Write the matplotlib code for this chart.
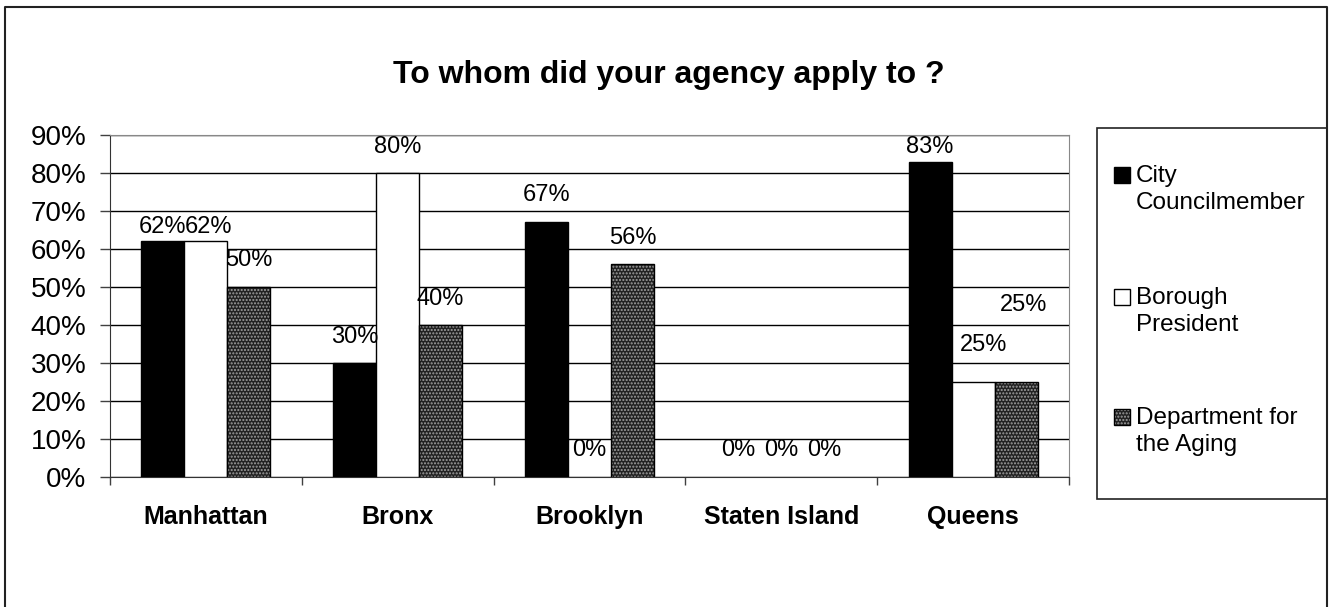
import numpy as np
import matplotlib
matplotlib.use("Agg")
from matplotlib import pyplot as plt
from matplotlib.patches import Rectangle
from matplotlib.lines import Line2D

# data
boroughs = ["Manhattan", "Bronx", "Brooklyn", "Staten Island", "Queens"]
series_names = ["City\nCouncilmember", "Borough\nPresident", "Department for\nthe Aging"]
city_council = [0.62, 0.30, 0.67, 0.0, 0.83]
borough_pres = [0.62, 0.80, 0.0, 0.0, 0.25]
dept_aging = [0.50, 0.40, 0.56, 0.0, 0.25]
y_ticks = [0.0, 0.1, 0.2, 0.3, 0.4, 0.5, 0.6, 0.7, 0.8, 0.9]

plt.rcParams['font.family'] = ['Liberation Sans', 'DejaVu Sans']

W, H = 1333, 607


# pixel (from top-left) to figure fraction
def fx(x):
    return x / W


def fy(y):
    return 1 - y / H


fig = plt.figure(figsize=(W / 100, H / 100), dpi=100)
ax = fig.add_axes([fx(110), fy(477), (1069 - 110) / W, (477 - 135) / H])

styles = [
    dict(color="black", edge="black", hatch=None),
    dict(color="white", edge="black", hatch=None),
    dict(color="#222222", edge="#a0a0a0", hatch="....."),
]
all_series = [city_council, borough_pres, dept_aging]

x = np.arange(len(boroughs))
bw = 0.224
offsets = [-bw, 0, bw]

# label offsets in pixels (excel placed them a bit oddly)
label_dx = [[0, 0, 0, 0, 0], [3, 0, 0, 0, 10], [0, 0, 0, 0, 7]]
label_dy = [[14, 26, 27, 27, 15], [14, 26, 27, 27, 37], [27, 26, 26, 27, 77]]

for i, vals in enumerate(all_series):
    st = styles[i]
    # no outline on empty bars
    lw = [1 if v > 0 else 0 for v in vals]
    if st["hatch"]:
        ax.bar(x + offsets[i], vals, bw, color=st["color"], edgecolor=st["edge"],
               hatch=st["hatch"], linewidth=0, zorder=3)
        ax.bar(x + offsets[i], vals, bw, fill=False, edgecolor="black", linewidth=lw, zorder=4)
    else:
        ax.bar(x + offsets[i], vals, bw, color=st["color"], edgecolor="black",
               linewidth=lw, zorder=3)
    for j, v in enumerate(vals):
        ax.annotate(f"{v:.0%}", (x[j] + offsets[i], v),
                    xytext=(label_dx[i][j], label_dy[i][j]), textcoords="offset pixels",
                    ha="center", va="center", fontsize=17, zorder=5)

ax.set_xlim(-0.5, len(boroughs) - 0.5)
ax.set_ylim(0, 0.9)
ax.set_yticks(y_ticks)
ax.set_yticklabels([f"{t:.0%}" for t in y_ticks], fontsize=20)
ax.set_xticks(x)
ax.set_xticklabels(boroughs, fontsize=18, fontweight="bold")
ax.set_xticks(np.arange(-0.5, len(boroughs)), minor=True)
ax.tick_params(axis="x", which="major", length=0, pad=20)
ax.tick_params(axis="x", which="minor", length=6, width=1, direction="out", color="#404040")
ax.tick_params(axis="y", length=7, width=1, direction="out", pad=10, color="#404040")

ax.grid(axis="y", color="black", linewidth=1, zorder=0)
ax.set_axisbelow(True)
for side in ["top", "right"]:
    ax.spines[side].set_color("#888888")
for side in ["left", "bottom"]:
    ax.spines[side].set_color("#333333")

fig.text(0.502, fy(75), "To whom did your agency apply to ?", ha="center", va="center",
         fontsize=23, fontweight="bold")

# outer border of the chart area
fig.add_artist(Line2D([fx(5), fx(5), fx(1327), fx(1327)], [0, fy(7), fy(7), 0],
                      color="#222222", linewidth=1.5))

# legend box, drawn by hand to keep the excel look
fig.add_artist(Rectangle((fx(1097), fy(499)), (1327 - 1097) / W, (499 - 128) / H,
                         facecolor="white", edgecolor="#222222", linewidth=1.2))
entry_y = [175, 297, 417]
for i, name in enumerate(series_names):
    st = styles[i]
    y0 = entry_y[i]
    fig.add_artist(Rectangle((fx(1114), fy(y0 + 8)), 16 / W, 16 / H,
                             facecolor=st["color"], edgecolor=st["edge"] if st["hatch"] else "black",
                             hatch=st["hatch"], linewidth=0 if st["hatch"] else 1))
    if st["hatch"]:
        fig.add_artist(Rectangle((fx(1114), fy(y0 + 8)), 16 / W, 16 / H,
                                 fill=False, edgecolor="black", linewidth=1))
    fig.text(fx(1136), fy(y0 - 10), name, ha="left", va="top", fontsize=17.5,
             linespacing=1.3)

fig.savefig("out.png", dpi=100)
